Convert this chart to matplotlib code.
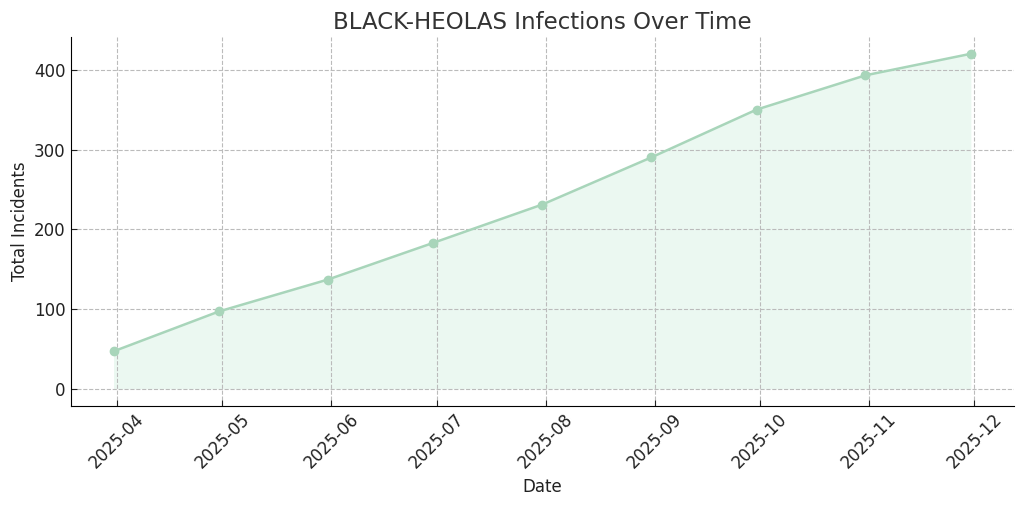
import pandas as pd
import matplotlib.pyplot as plt
import matplotlib.dates as mdates

dates = pd.to_datetime(["2025-03-31", "2025-04-30", "2025-05-31", "2025-06-30",
                        "2025-07-31", "2025-08-31", "2025-09-30", "2025-10-31",
                        "2025-11-30"])
incidents = [47, 97, 137, 183, 231, 290, 350, 393, 420]

line_color = "#a8d5ba"
fill_color = "#ebf8f1"

fig, ax = plt.subplots(figsize=(10.24, 5.07), dpi=100)
ax.plot(dates, incidents, marker="o", color=line_color, linewidth=1.8, markersize=6)
ax.fill_between(dates, incidents, color=fill_color, linewidth=0)

ax.set_title("BLACK-HEOLAS Infections Over Time", fontsize=16.5, color="#333333")
ax.set_xlabel("Date", fontsize=12, color="#222222")
ax.set_ylabel("Total Incidents", fontsize=12, color="#222222")

ax.xaxis.set_major_locator(mdates.MonthLocator())
ax.xaxis.set_major_formatter(mdates.DateFormatter("%Y-%m"))
plt.xticks(rotation=45, fontsize=12)
plt.yticks(fontsize=12)
ax.tick_params(direction="in", length=4, colors="#222222")

ax.grid(True, linestyle="--", color="#bbbbbb", linewidth=0.8)
ax.spines["top"].set_visible(False)
ax.spines["right"].set_visible(False)

plt.subplots_adjust(left=0.069, right=0.99, top=0.927, bottom=0.2)
plt.savefig("out.png")
